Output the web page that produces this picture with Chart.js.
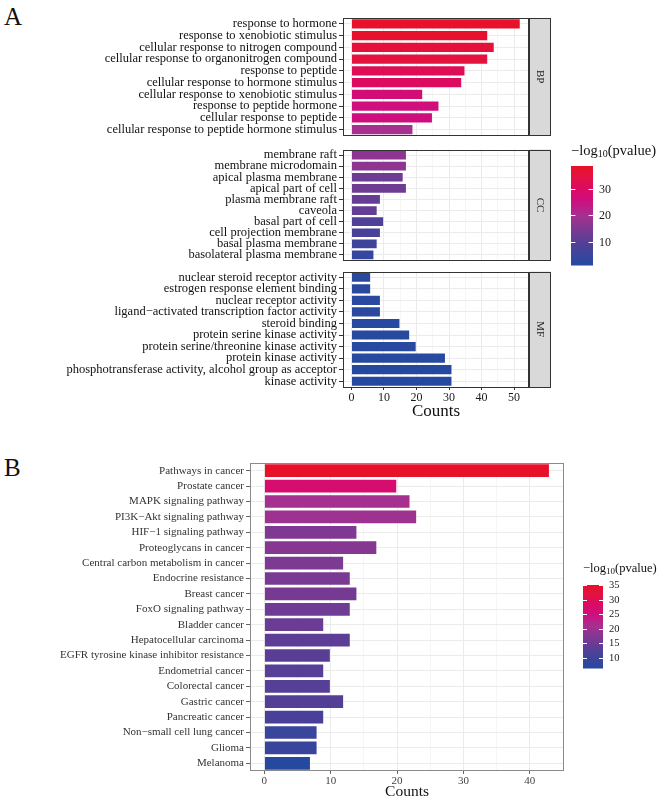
<!DOCTYPE html>
<html>
<head>
<meta charset="utf-8">
<script src="https://cdn.jsdelivr.net/npm/chart.js@4.4.0/dist/chart.umd.min.js"></script>
<style>
  body { margin: 0; background: #fff; width: 661px; height: 798px; position: relative; overflow: hidden; font-family: 'Liberation Serif', serif; }
  canvas { position: absolute; left: 0; }
  .tag { position: absolute; left: 4px; font-size: 25px; color: #111; line-height: 1; }
</style>
</head>
<body>
<div class="tag" style="top:4px">A</div>
<canvas id="bp" width="661" height="145" style="top:0"></canvas>
<canvas id="cc" width="661" height="130" style="top:140px"></canvas>
<canvas id="mf" width="661" height="160" style="top:262px"></canvas>
<div class="tag" style="top:455px">B</div>
<canvas id="kegg" width="661" height="358" style="top:440px"></canvas>
<script>
const SERIF = "'Liberation Serif', 'Times New Roman', serif";

// panel A - GO enrichment, three facets
const bpTerms = ['response to hormone', 'response to xenobiotic stimulus', 'cellular response to nitrogen compound',
  'cellular response to organonitrogen compound', 'response to peptide', 'cellular response to hormone stimulus',
  'cellular response to xenobiotic stimulus', 'response to peptide hormone', 'cellular response to peptide',
  'cellular response to peptide hormone stimulus'];
const bpCounts = [52, 42, 44, 42, 35, 34, 22, 27, 25, 19];
const bpLogP = [38.5, 38, 35.5, 34.8, 31.8, 30.3, 26.6, 25.8, 25.4, 19.8];

const ccTerms = ['membrane raft', 'membrane microdomain', 'apical plasma membrane', 'apical part of cell',
  'plasma membrane raft', 'caveola', 'basal part of cell', 'cell projection membrane', 'basal plasma membrane',
  'basolateral plasma membrane'];
const ccCounts = [17, 17, 16, 17, 9, 8, 10, 9, 8, 7];
const ccLogP = [16.9, 16.9, 12.8, 12.8, 11.6, 11.4, 8.7, 7.5, 5.7, 4.2];

const mfTerms = ['nuclear steroid receptor activity', 'estrogen response element binding', 'nuclear receptor activity',
  'ligand\u2212activated transcription factor activity', 'steroid binding', 'protein serine kinase activity',
  'protein serine/threonine kinase activity', 'protein kinase activity',
  'phosphotransferase activity, alcohol group as acceptor', 'kinase activity'];
const mfCounts = [6, 6, 9, 9, 15, 18, 20, 29, 31, 31];
const mfLogP = [2.2, 2.1, 1.9, 1.9, 1.7, 1.5, 1.4, 1.3, 1.2, 1.2];

// panel B - KEGG pathways
const keggTerms = ['Pathways in cancer', 'Prostate cancer', 'MAPK signaling pathway', 'PI3K\u2212Akt signaling pathway',
  'HIF\u22121 signaling pathway', 'Proteoglycans in cancer', 'Central carbon metabolism in cancer', 'Endocrine resistance',
  'Breast cancer', 'FoxO signaling pathway', 'Bladder cancer', 'Hepatocellular carcinoma',
  'EGFR tyrosine kinase inhibitor resistance', 'Endometrial cancer', 'Colorectal cancer', 'Gastric cancer',
  'Pancreatic cancer', 'Non\u2212small cell lung cancer', 'Glioma', 'Melanoma'];
const keggCounts = [43, 20, 22, 23, 14, 17, 12, 13, 14, 13, 9, 13, 10, 9, 10, 12, 9, 8, 8, 7];
const keggLogP = [35, 27, 20.8, 20, 17.1, 17.7, 16.7, 16.3, 16, 15.4, 15.1, 13.7, 13.4, 13.1, 13, 12.8, 11.4, 9.4, 9.3, 6.6];

const legendTicksA = [10, 20, 30];
const legendTicksB = [10, 15, 20, 25, 30, 35];

// blue -> purple -> magenta -> red, as printed
const gradStops = [
  [0, '#2649a0'], [0.2, '#4f4098'], [0.35, '#7a3a92'], [0.5, '#a53090'],
  [0.65, '#cf0e7e'], [0.78, '#dc0b60'], [0.9, '#e3123e'], [1, '#e8112a']
];
function hex(h) { return [1, 3, 5].map(i => parseInt(h.substr(i, 2), 16)); }
function fillColor(v, lim) {
  let t = (v - lim[0]) / (lim[1] - lim[0]);
  t = Math.max(0, Math.min(1, t));
  for (let i = 1; i < gradStops.length; i++) {
    if (t <= gradStops[i][0]) {
      const [t0, c0] = gradStops[i - 1], [t1, c1] = gradStops[i];
      const f = (t - t0) / (t1 - t0), a = hex(c0), b = hex(c1);
      return 'rgb(' + a.map((x, k) => Math.round(x + (b[k] - x) * f)).join(',') + ')';
    }
  }
  return gradStops[gradStops.length - 1][1];
}

const allA = bpLogP.concat(ccLogP, mfLogP);
const limA = [Math.min(...allA), Math.max(...allA)];
const limB = [Math.min(...keggLogP), Math.max(...keggLogP)];

const panelFrame = {
  id: 'panelFrame',
  afterDraw(chart, args, o) {
    const { ctx, chartArea: a } = chart;
    ctx.save();
    ctx.strokeStyle = o.color;
    ctx.lineWidth = 1;
    ctx.strokeRect(Math.round(a.left) + 0.5, Math.round(a.top) + 0.5, Math.round(a.width) - 1, Math.round(a.height) - 1);
    if (o.strip) {
      const x = Math.round(a.right);
      ctx.fillStyle = '#d9d9d9';
      ctx.fillRect(x, a.top, o.stripWidth, a.height);
      ctx.strokeRect(x + 0.5, Math.round(a.top) + 0.5, o.stripWidth - 1, Math.round(a.height) - 1);
      ctx.translate(x + o.stripWidth / 2, (a.top + a.bottom) / 2);
      ctx.rotate(Math.PI / 2);
      ctx.fillStyle = '#1a1a1a';
      ctx.font = '11px ' + SERIF;
      ctx.textAlign = 'center';
      ctx.textBaseline = 'middle';
      ctx.fillText(o.strip, 0, 0);
    }
    ctx.restore();
  }
};

const colorBar = {
  id: 'colorBar',
  afterDraw(chart, args, o) {
    if (!o.lim) return;
    const ctx = chart.ctx;
    const [lo, hi] = o.lim;
    ctx.save();
    for (let i = 0; i < o.h; i++) {
      ctx.fillStyle = fillColor(hi - (hi - lo) * (i + 0.5) / o.h, o.lim);
      ctx.fillRect(o.x, o.y + i, o.w, 1.5);
    }
    ctx.strokeStyle = '#fff';
    ctx.lineWidth = 1;
    ctx.textBaseline = 'middle';
    ctx.textAlign = 'left';
    o.ticks.forEach(v => {
      const y = Math.round(o.y + (hi - v) / (hi - lo) * o.h) + 0.5;
      ctx.beginPath();
      ctx.moveTo(o.x, y); ctx.lineTo(o.x + o.w * 0.2, y);
      ctx.moveTo(o.x + o.w * 0.8, y); ctx.lineTo(o.x + o.w, y);
      ctx.stroke();
      ctx.fillStyle = '#1a1a1a';
      ctx.font = o.tickSize + 'px ' + SERIF;
      ctx.fillText(String(v), o.x + o.w + 6, y);
    });
    // title with subscript
    let x = o.x;
    const s = o.titleSize;
    ctx.textBaseline = 'alphabetic';
    ctx.fillStyle = '#111';
    ctx.font = s + 'px ' + SERIF;
    ctx.fillText('\u2212log', x, o.titleY); x += ctx.measureText('\u2212log').width;
    ctx.font = Math.round(s * 0.7) + 'px ' + SERIF;
    ctx.fillText('10', x, o.titleY + s * 0.12); x += ctx.measureText('10').width;
    ctx.font = s + 'px ' + SERIF;
    ctx.fillText('(pvalue)', x, o.titleY);
    ctx.restore();
  }
};

function facetChart(id, terms, counts, logp, lim, o) {
  const major = c => c.tick && c.tick.value % 10 === 0;
  return new Chart(document.getElementById(id), {
    type: 'bar',
    data: {
      labels: terms,
      datasets: [{
        data: counts,
        backgroundColor: logp.map(v => fillColor(v, lim)),
        borderColor: 'rgba(255,255,255,0.25)',
        borderWidth: 0.8,
        barPercentage: 0.93,
        categoryPercentage: 1
      }]
    },
    options: {
      indexAxis: 'y',
      responsive: false,
      animation: false,
      layout: { padding: o.padding },
      plugins: {
        legend: { display: false },
        tooltip: { enabled: false },
        panelFrame: { color: o.frame, strip: o.strip, stripWidth: 22 },
        colorBar: o.colorBar || {}
      },
      scales: {
        x: {
          min: o.xmin, max: o.xmax,
          border: { display: false },
          grid: {
            color: c => major(c) ? '#ebebeb' : '#f2f2f2',
            lineWidth: c => major(c) ? 1 : 0.7,
            drawTicks: o.showX, tickLength: 3,
            tickColor: c => major(c) ? o.tickColor : 'rgba(0,0,0,0)'
          },
          ticks: {
            display: o.showX, stepSize: 5, includeBounds: false, autoSkip: false, maxRotation: 0, padding: 1,
            color: o.tickText, font: { family: SERIF, size: o.xTickSize },
            callback: v => v % 10 === 0 ? v : ''
          },
          title: {
            display: o.showX, text: 'Counts', color: '#111', font: { family: SERIF, size: o.titleSize },
            padding: { top: 0, bottom: o.titlePad || 0 }
          },
          afterFit: s => { s.height = o.xHeight; }
        },
        y: {
          border: { display: false },
          grid: { color: '#ebebeb', offset: false, tickLength: 4, tickColor: o.tickColor },
          ticks: { autoSkip: false, padding: 2, color: o.labelColor, font: { family: SERIF, size: o.labelSize } },
          afterFit: s => { s.width = o.yWidth; }
        }
      }
    },
    plugins: [panelFrame, colorBar]
  });
}

const goBase = {
  xmin: -2.6, xmax: 54.6, yWidth: 343, frame: '#333', tickColor: '#333', tickText: '#1a1a1a',
  labelColor: '#111', labelSize: 12.5, xTickSize: 12, titleSize: 17
};

facetChart('bp', bpTerms, bpCounts, bpLogP, limA, Object.assign({}, goBase, {
  padding: { top: 18, bottom: 6, left: 0, right: 132 }, strip: 'BP', showX: false, xHeight: 0
}));
facetChart('cc', ccTerms, ccCounts, ccLogP, limA, Object.assign({}, goBase, {
  padding: { top: 5, bottom: 7, left: 0, right: 132 }, strip: 'CC', showX: false, xHeight: 0,
  colorBar: { lim: limA, x: 571, y: 26, w: 22, h: 99, ticks: legendTicksA, tickSize: 12, titleSize: 14.5, titleY: 15 }
}));
facetChart('mf', mfTerms, mfCounts, mfLogP, limA, Object.assign({}, goBase, {
  padding: { top: 6, bottom: 0, left: 0, right: 132 }, strip: 'MF', showX: true, xHeight: 35
}));

facetChart('kegg', keggTerms, keggCounts, keggLogP, limB, {
  xmin: -2.15, xmax: 45.15, yWidth: 250, frame: '#8a8a8a', tickColor: '#666', tickText: '#444',
  labelColor: '#333', labelSize: 11, xTickSize: 11, titleSize: 15.5, titlePad: -3,
  padding: { top: 23, bottom: 0, left: 0, right: 97 }, showX: true, xHeight: 27,
  colorBar: { lim: limB, x: 583, y: 145, w: 20, h: 83, ticks: legendTicksB, tickSize: 10.5, titleSize: 12.5, titleY: 132 }
});
</script>
</body>
</html>
